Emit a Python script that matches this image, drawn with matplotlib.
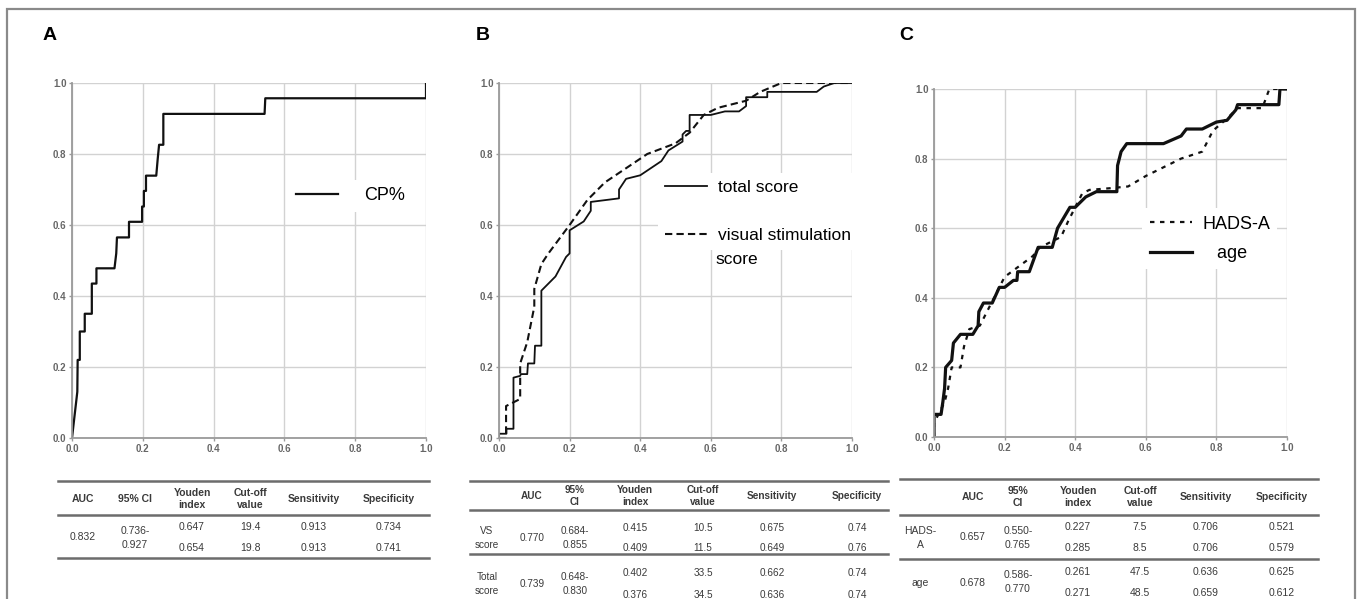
import matplotlib
matplotlib.use("Agg")
import matplotlib.pyplot as plt
from matplotlib.lines import Line2D
from matplotlib.patches import Rectangle

plt.rcParams["font.family"] = ["Liberation Sans", "DejaVu Sans"]

W, H = 1357, 599

# ROC curves: (1 - specificity, sensitivity)
cp_fpr = [0.0, 0.015, 0.016, 0.022, 0.022, 0.036, 0.036, 0.056, 0.056, 0.069, 0.069,
          0.120, 0.125, 0.127, 0.161, 0.161, 0.198, 0.198, 0.203, 0.203, 0.209, 0.209,
          0.238, 0.242, 0.246, 0.258, 0.258, 0.544, 0.546, 1.0, 1.0]
cp_tpr = [0.0, 0.13, 0.22, 0.22, 0.30, 0.30, 0.35, 0.35, 0.435, 0.435, 0.478,
          0.478, 0.52, 0.565, 0.565, 0.609, 0.609, 0.652, 0.652, 0.696, 0.696, 0.739,
          0.739, 0.785, 0.826, 0.826, 0.913, 0.913, 0.957, 0.957, 1.0]

total_fpr = [0.0, 0.0, 0.021, 0.021, 0.041, 0.041, 0.06, 0.062, 0.08, 0.082, 0.10, 0.102,
             0.12, 0.12, 0.16, 0.19, 0.20, 0.20, 0.24, 0.26, 0.26, 0.34, 0.34, 0.36, 0.40,
             0.46, 0.48, 0.52, 0.52, 0.53, 0.54, 0.54, 0.60, 0.64, 0.68, 0.70, 0.70, 0.76,
             0.76, 0.90, 0.92, 0.95, 1.0]
total_tpr = [0.0, 0.012, 0.012, 0.026, 0.026, 0.17, 0.175, 0.18, 0.18, 0.21, 0.21, 0.26,
             0.26, 0.415, 0.455, 0.51, 0.52, 0.585, 0.61, 0.64, 0.665, 0.675, 0.70, 0.73,
             0.74, 0.78, 0.81, 0.835, 0.855, 0.865, 0.865, 0.91, 0.91, 0.92, 0.92, 0.935,
             0.96, 0.96, 0.975, 0.975, 0.99, 1.0, 1.0]

vs_fpr = [0.0, 0.02, 0.02, 0.04, 0.06, 0.06, 0.08, 0.10, 0.10, 0.12, 0.14, 0.20, 0.25,
          0.30, 0.36, 0.42, 0.50, 0.54, 0.58, 0.62, 0.70, 0.74, 0.80, 1.0]
vs_tpr = [0.0, 0.0, 0.09, 0.10, 0.11, 0.21, 0.27, 0.37, 0.42, 0.49, 0.52, 0.60, 0.67,
          0.72, 0.76, 0.80, 0.83, 0.86, 0.91, 0.93, 0.95, 0.975, 1.0, 1.0]

age_fpr = [0.0, 0.0, 0.02, 0.025, 0.03, 0.033, 0.05, 0.055, 0.075, 0.11, 0.125, 0.127,
           0.14, 0.165, 0.185, 0.20, 0.225, 0.235, 0.237, 0.27, 0.295, 0.335, 0.35, 0.385,
           0.40, 0.43, 0.46, 0.518, 0.52, 0.53, 0.546, 0.65, 0.70, 0.715, 0.76, 0.80, 0.83,
           0.855, 0.86, 0.977, 0.98, 1.0]
age_tpr = [0.0, 0.065, 0.065, 0.10, 0.14, 0.20, 0.22, 0.27, 0.295, 0.295, 0.32, 0.36,
           0.385, 0.385, 0.43, 0.43, 0.45, 0.45, 0.475, 0.475, 0.545, 0.545, 0.60, 0.66,
           0.66, 0.69, 0.705, 0.705, 0.78, 0.82, 0.843, 0.843, 0.865, 0.885, 0.885, 0.905,
           0.91, 0.94, 0.955, 0.955, 1.0, 1.0]

hads_fpr = [0.0, 0.0, 0.01, 0.03, 0.04, 0.05, 0.075, 0.085, 0.10, 0.13, 0.17, 0.20, 0.28,
            0.30, 0.33, 0.36, 0.38, 0.40, 0.42, 0.44, 0.50, 0.55, 0.60, 0.70, 0.76, 0.79,
            0.83, 0.86, 0.93, 0.95, 1.0]
hads_tpr = [0.0, 0.04, 0.06, 0.10, 0.14, 0.20, 0.20, 0.26, 0.31, 0.32, 0.40, 0.46, 0.52,
            0.545, 0.56, 0.575, 0.62, 0.66, 0.70, 0.71, 0.715, 0.72, 0.75, 0.80, 0.82, 0.88,
            0.915, 0.945, 0.945, 1.0, 1.0]

# tables
tab_header = ["AUC", "95% CI", "Youden\nindex", "Cut-off\nvalue", "Sensitivity", "Specificity"]
tab_header2 = ["", "AUC", "95%\nCI", "Youden\nindex", "Cut-off\nvalue", "Sensitivity", "Specificity"]

a_names = [None]
a_auc = ["0.832"]
a_ci = ["0.736-\n0.927"]
a_youden = [["0.647", "0.654"]]
a_cut = [["19.4", "19.8"]]
a_sens = [["0.913", "0.913"]]
a_spec = [["0.734", "0.741"]]

b_names = ["VS\nscore", "Total\nscore"]
b_auc = ["0.770", "0.739"]
b_ci = ["0.684-\n0.855", "0.648-\n0.830"]
b_youden = [["0.415", "0.409"], ["0.402", "0.376"]]
b_cut = [["10.5", "11.5"], ["33.5", "34.5"]]
b_sens = [["0.675", "0.649"], ["0.662", "0.636"]]
b_spec = [["0.74", "0.76"], ["0.74", "0.74"]]

c_names = ["HADS-\nA", "age"]
c_auc = ["0.657", "0.678"]
c_ci = ["0.550-\n0.765", "0.586-\n0.770"]
c_youden = [["0.227", "0.285"], ["0.261", "0.271"]]
c_cut = [["7.5", "8.5"], ["47.5", "48.5"]]
c_sens = [["0.706", "0.706"], ["0.636", "0.659"]]
c_spec = [["0.521", "0.579"], ["0.625", "0.612"]]

INK = "#111111"
TXT = "#3a3a3a"


def fx(x):
    return x / W


def fy(y):
    return 1 - y / H


def roc_axes(fig, l, t, r, b):
    ax = fig.add_axes([fx(l), fy(b), (r - l) / W, (b - t) / H])
    ticks = [0, 0.2, 0.4, 0.6, 0.8, 1.0]
    ax.set_xlim(0, 1)
    ax.set_ylim(0, 1)
    ax.set_xticks(ticks)
    ax.set_yticks(ticks)
    ax.set_xticklabels([f"{t:.1f}" for t in ticks])
    ax.set_yticklabels([f"{t:.1f}" for t in ticks])
    ax.grid(True, color="#d2d2d2", lw=1.0)
    ax.set_axisbelow(True)
    for s in ("top", "right"):
        ax.spines[s].set_visible(False)
    for s in ("left", "bottom"):
        ax.spines[s].set_color("#9a9a9a")
        ax.spines[s].set_linewidth(1.3)
    ax.tick_params(length=2.5, width=1, color="#9a9a9a", labelsize=7,
                   labelcolor="#666666", pad=1.5)
    for lab in ax.get_xticklabels() + ax.get_yticklabels():
        lab.set_fontweight("bold")
    return ax


def rule(fig, x0, x1, y):
    fig.add_artist(Line2D([fx(x0), fx(x1)], [fy(y), fy(y)], color="#6c6c6c", lw=1.8))


def cell(fig, x, y, s, fs, bold=False):
    fig.text(fx(x), fy(y), s, ha="center", va="center", fontsize=fs, color=TXT,
             fontweight="bold" if bold else "normal",
             linespacing=1.3 if bold else 1.5)


def table(fig, cols, header, header_y, row_ys, names, auc, ci, youden, cut, sens, spec, fs):
    for x, h in zip(cols, header):
        cell(fig, x, header_y, h, fs, bold=True)
    off = 0 if names[0] is None else 1
    for g, (y1, y2) in enumerate(row_ys):
        ym = (y1 + y2) / 2
        if off:
            cell(fig, cols[0], ym, names[g], fs)
        cell(fig, cols[off], ym, auc[g], fs)
        cell(fig, cols[off + 1], ym, ci[g], fs)
        for k, col in enumerate((youden, cut, sens, spec)):
            cell(fig, cols[off + 2 + k], y1, col[g][0], fs)
            cell(fig, cols[off + 2 + k], y2, col[g][1], fs)


def white_legend(lg):
    lg.get_frame().set_edgecolor("none")
    lg.get_frame().set_facecolor("white")
    lg.get_frame().set_alpha(1)


fig = plt.figure(figsize=(W / 100, H / 100), dpi=100)

# outer frame
fig.add_artist(Rectangle((fx(7), fy(640)), fx(1355) - fx(7), fy(9) - fy(640),
                         fill=False, edgecolor="#8a8a8a", lw=1.6))

for lab, x in (("A", 50), ("B", 483), ("C", 906)):
    fig.text(fx(x), fy(35), lab, ha="center", va="center", fontsize=14, fontweight="bold")

# A
ax = roc_axes(fig, 72, 83, 426, 438)
ax.plot(cp_fpr, cp_tpr, color=INK, lw=1.6, label="CP%")
white_legend(ax.legend(loc="center left", bbox_to_anchor=(0.587, 0.682), fontsize=13,
                       handlelength=2.35, handletextpad=1.4, borderpad=0.4, fancybox=False))

# B
ax = roc_axes(fig, 499, 83, 852, 438)
ax.plot(total_fpr, total_tpr, color=INK, lw=1.3, label="total score")
ax.plot(vs_fpr, vs_tpr, color=INK, lw=1.5, ls=(0, (3.5, 2)), label="visual stimulation")
white_legend(ax.legend(loc="upper left", bbox_to_anchor=(0.427, 0.772), fontsize=12.5,
                       handlelength=2.4, handletextpad=0.65, borderpad=0.4, labelspacing=1.9,
                       fancybox=False))
ax.text(0.614, 0.503, "score", transform=ax.transAxes, fontsize=12.5, ha="left", va="center",
        bbox=dict(facecolor="white", edgecolor="none", pad=2))

# C
ax = roc_axes(fig, 934, 89, 1287, 437)
ax.plot(hads_fpr, hads_tpr, color=INK, lw=1.6, ls=(0, (2, 2.5)), label="HADS-A")
ax.plot(age_fpr, age_tpr, color=INK, lw=2.3, label="   age")
white_legend(ax.legend(loc="upper left", bbox_to_anchor=(0.565, 0.683), fontsize=13,
                       handlelength=2.35, handletextpad=0.55, borderpad=0.4, labelspacing=0.7,
                       fancybox=False))

# table A
rule(fig, 58, 429, 481)
rule(fig, 58, 429, 515)
rule(fig, 58, 429, 558)
table(fig, [83, 135, 192, 250, 314, 389], tab_header, 499, [(527, 548)],
      a_names, a_auc, a_ci, a_youden, a_cut, a_sens, a_spec, 7.5)

# table B
rule(fig, 470, 888, 481)
rule(fig, 470, 888, 510)
rule(fig, 470, 888, 554)
table(fig, [487, 532, 575, 635, 703, 772, 857], tab_header2, 496, [(528, 548), (573, 595)],
      b_names, b_auc, b_ci, b_youden, b_cut, b_sens, b_spec, 7.2)

# table C
rule(fig, 900, 1318, 479)
rule(fig, 900, 1318, 515)
rule(fig, 900, 1318, 559)
table(fig, [920, 973, 1018, 1078, 1140, 1206, 1282], tab_header2, 497, [(527, 548), (572, 593)],
      c_names, c_auc, c_ci, c_youden, c_cut, c_sens, c_spec, 7.5)

fig.savefig("out.png", dpi=100)
